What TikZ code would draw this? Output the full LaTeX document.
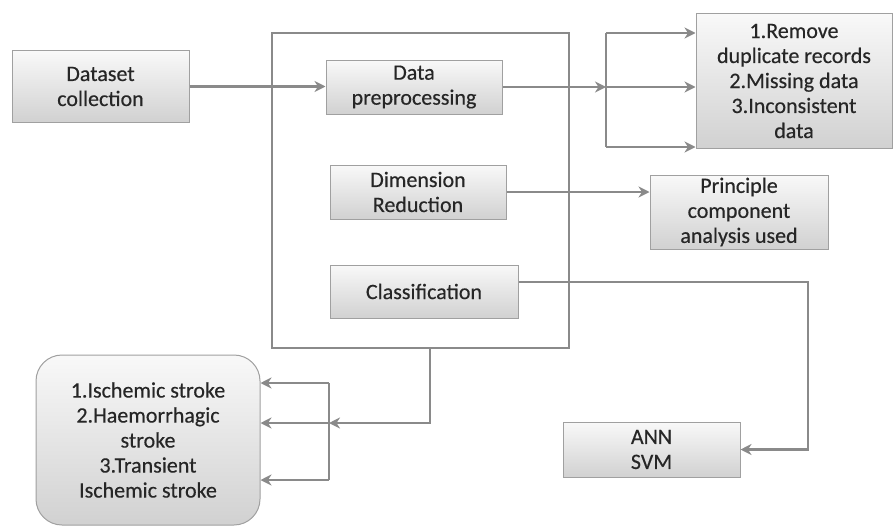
\documentclass[tikz,border=0pt]{standalone}
\usepackage{fontspec}
\setmainfont[FakeBold=0.35]{Carlito}
\usetikzlibrary{arrows.meta,calc}
\definecolor{linegray}{HTML}{8A8A8A}
\definecolor{boxline}{HTML}{A0A0A0}
\definecolor{txt}{HTML}{262626}
\tikzset{
  box/.style={draw=boxline, line width=1pt, top color=white!95!gray, bottom color=black!18,
    align=center, text=txt, inner sep=2pt, font=\fontsize{22}{25}\selectfont},
  conn/.style={draw=linegray, line width=2.6pt},
  arr/.style={conn, -{Stealth[length=11pt,width=11pt,inset=3.5pt]}},
  framebox/.style={draw=linegray, line width=2.2pt}
}
\begin{document}
\begin{tikzpicture}[x=1pt,y=-1pt]
\useasboundingbox (0,0) rectangle (893,527);
\node[framebox, minimum width=297pt, minimum height=315pt] (frame) at (420.5,190.5) {};
\node[box, minimum width=177pt, minimum height=71pt] (ds) at (100.5,86.5) {Dataset\\collection};
\node[box, minimum width=176pt, minimum height=54pt] (pre) at (414,87) {Data\\preprocessing};
\node[box, minimum width=176pt, minimum height=54pt] (dim) at (418,192) {Dimension\\Reduction};
\node[box, minimum width=188pt, minimum height=53pt] (cls) at (424,291.5) {Classification};
\node[box, minimum width=196pt, minimum height=134pt] (rem) at (794,81) {1.Remove\\duplicate records\\2.Missing data\\3.Inconsistent\\data};
\node[box, minimum width=178pt, minimum height=74pt] (pca) at (739,212) {Principle\\component\\analysis used};
\node[box, minimum width=177pt, minimum height=55pt] (ann) at (651.5,449.5) {ANN\\SVM};
\node[box, rounded corners=26pt, minimum width=224pt, minimum height=170pt] (stroke) at (148,440) {1.Ischemic stroke\\2.Haemorrhagic\\stroke\\3.Transient\\Ischemic stroke};

% dataset -> preprocessing
\draw[arr] (ds.east) -- (ds.east -| pre.west);
% preprocessing -> fan
\coordinate (b1) at (606,87);
\coordinate (bt) at (606,33);
\coordinate (bb) at (606,147);
\draw[arr] (pre.east) -- (b1);
\draw[conn] (bt) -- (bb);
\draw[arr] (bt) -- (bt -| rem.west);
\draw[arr] (b1) -- (b1 -| rem.west);
\draw[arr] (bb) -- (bb -| rem.west);
% dimension -> pca
\draw[arr] (dim.east) -- (dim.east -| pca.west);
% classification -> ann
\coordinate (cr) at (808,449.5);
\draw[arr] ([yshift=9.5pt]cls.east) -| (cr) -- (ann.east);
% frame -> stroke
\coordinate (fb) at (430,348);
\coordinate (sv) at (329,423);
\coordinate (st) at (329,383);
\coordinate (sb) at (329,480);
\draw[arr] (fb) |- (sv);
\draw[arr] (sv) -- (sv -| stroke.east);
\draw[conn] (st) -- (sb);
\draw[arr] (st) -- (st -| stroke.east);
\draw[arr] (sb) -- (sb -| stroke.east);
\end{tikzpicture}
\end{document}
